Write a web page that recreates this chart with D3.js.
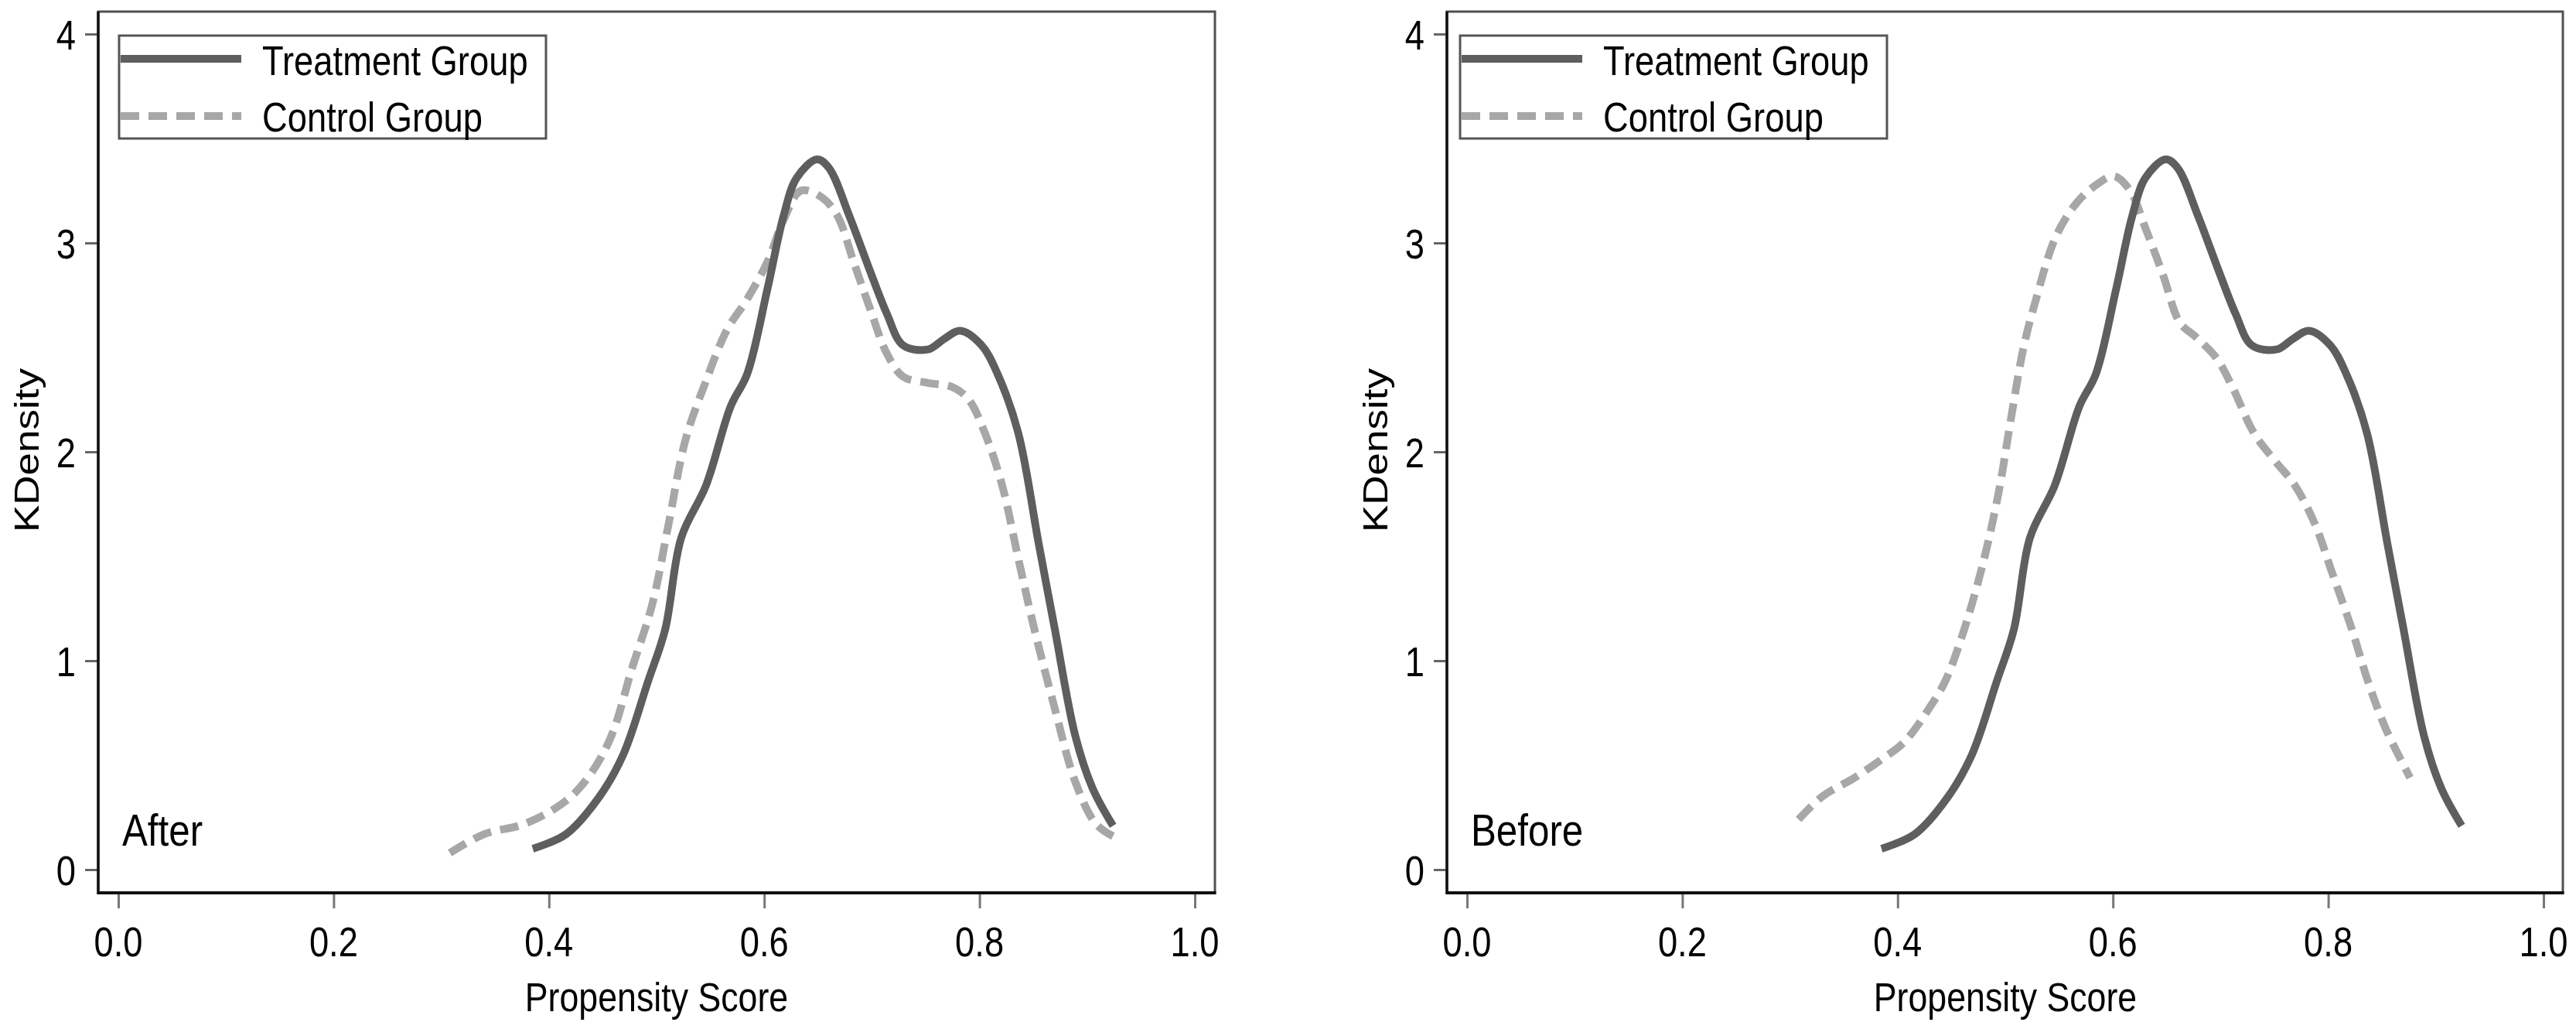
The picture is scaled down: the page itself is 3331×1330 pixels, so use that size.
<!DOCTYPE html>
<html>
<head>
<meta charset="utf-8">
<script src="https://cdn.jsdelivr.net/npm/d3@7"></script>
<style>
html,body{margin:0;padding:0;background:#fff;}
svg{display:block;}
</style>
</head>
<body>
<script>
// ---- Data ----
const panelLabels = ["After", "Before"];
const xTicks = [0.0, 0.2, 0.4, 0.6, 0.8, 1.0];
const yTicks = [0, 1, 2, 3, 4];
const legendLabels = ["Treatment Group", "Control Group"];
const xTitle = "Propensity Score";
const yTitle = "KDensity";

const treatX = [0.385,0.416,0.447,0.469,0.492,0.508,0.523,0.546,0.569,0.584,0.603,0.618,0.630,0.649,0.660,0.679,0.698,0.714,0.729,0.752,0.767,0.782,0.802,0.817,0.836,0.855,0.870,0.889,0.905,0.924];
const treatY = [0.10,0.17,0.35,0.55,0.90,1.15,1.59,1.84,2.22,2.37,2.78,3.13,3.31,3.40,3.36,3.13,2.87,2.66,2.51,2.49,2.54,2.58,2.51,2.37,2.09,1.56,1.15,0.64,0.39,0.21];

const ctrlAfterX = [0.308,0.340,0.378,0.416,0.439,0.458,0.477,0.496,0.511,0.527,0.546,0.565,0.584,0.603,0.618,0.634,0.653,0.668,0.683,0.698,0.714,0.729,0.752,0.775,0.790,0.805,0.821,0.836,0.851,0.870,0.889,0.908,0.924];
const ctrlAfterY = [0.08,0.17,0.22,0.33,0.46,0.64,0.96,1.27,1.65,2.06,2.34,2.58,2.73,2.91,3.11,3.25,3.22,3.13,2.91,2.69,2.47,2.36,2.33,2.31,2.25,2.09,1.84,1.49,1.15,0.77,0.42,0.22,0.16];

const ctrlBeforeX = [0.308,0.330,0.360,0.383,0.406,0.429,0.444,0.460,0.479,0.494,0.505,0.517,0.528,0.547,0.566,0.585,0.601,0.616,0.631,0.647,0.662,0.677,0.696,0.711,0.731,0.750,0.769,0.788,0.803,0.822,0.837,0.853,0.876];
const ctrlBeforeY = [0.24,0.35,0.44,0.52,0.61,0.77,0.90,1.12,1.46,1.81,2.15,2.50,2.72,3.03,3.19,3.28,3.32,3.25,3.06,2.84,2.62,2.55,2.45,2.31,2.09,1.96,1.84,1.65,1.43,1.15,0.90,0.68,0.44];

const controlSeries = [
  d3.zip(ctrlAfterX, ctrlAfterY),
  d3.zip(ctrlBeforeX, ctrlBeforeY)
];
const treatSeries = d3.zip(treatX, treatY);

// ---- Layout ----
const W = 3331, H = 1330;
const FONT = "'Liberation Sans', Arial, Helvetica, sans-serif";
const SX = 0.84; // horizontal text compression seen in the reference
const panels = [
  {frameL:127, frameR:1571, x0:153, x1:1545, legL:154, legR:706, yTitleX:50, xTitleX:849},
  {frameL:1871, frameR:3314, x0:1897, x1:3289, legL:1888, legR:2440, yTitleX:1794, xTitleX:2593}
];
const frameT = 15, frameB = 1154;
const yScale = d3.scaleLinear().domain([0,4]).range([1124, 44]);

const svg = d3.select("body").append("svg").attr("width", W).attr("height", H);
svg.append("rect").attr("width", W).attr("height", H).attr("fill", "#fff");

const treatColor = "#5e5e5e", ctrlColor = "#a7a7a7";

function ctext(g, x, y, str, size, anchor, sx, extra) {
  return g.append("text")
    .attr("transform", `translate(${x},${y}) scale(${sx},1)` + (extra || ""))
    .attr("text-anchor", anchor)
    .attr("font-family", FONT)
    .attr("font-size", size)
    .attr("fill", "#000")
    .text(str);
}

panels.forEach((p, i) => {
  const g = svg.append("g");
  const xScale = d3.scaleLinear().domain([0,1]).range([p.x0, p.x1]);

  // frame (top/right lighter)
  g.append("rect")
    .attr("x", p.frameL).attr("y", frameT)
    .attr("width", p.frameR - p.frameL).attr("height", frameB - frameT)
    .attr("fill", "none").attr("stroke", "#505050").attr("stroke-width", 3);

  // Axes via d3 axis generators
  const xAxis = d3.axisBottom(xScale).tickValues(xTicks).tickSize(18).tickPadding(0).tickFormat(() => "");
  const xa = g.append("g").attr("transform", `translate(0,${frameB + 2})`).call(xAxis);
  xa.select(".domain").remove();
  xa.selectAll(".tick line").attr("stroke", "#777").attr("stroke-width", 3);

  const yAxis = d3.axisLeft(yScale).tickValues(yTicks).tickSize(16).tickFormat(() => "");
  const ya = g.append("g").attr("transform", `translate(${p.frameL - 1},0)`).call(yAxis);
  ya.select(".domain").remove();
  ya.selectAll(".tick line").attr("stroke", "#666").attr("stroke-width", 3);

  // axis lines (left & bottom black)
  g.append("line").attr("x1", p.frameL).attr("x2", p.frameL).attr("y1", frameT).attr("y2", frameB + 2)
    .attr("stroke", "#111").attr("stroke-width", 3.5);
  g.append("line").attr("x1", p.frameL).attr("x2", p.frameR + 1.5).attr("y1", frameB).attr("y2", frameB)
    .attr("stroke", "#111").attr("stroke-width", 4);

  // tick labels
  xTicks.forEach(t => ctext(g, xScale(t), 1236, d3.format(".1f")(t), 54, "middle", SX));
  yTicks.forEach(t => ctext(g, 98, 0, String(t), 54, "end", SX)
     .attr("transform", `translate(${p.frameL - 29},${yScale(t) + 20}) scale(${SX},1)`));

  // titles
  ctext(g, p.xTitleX, 1307, xTitle, 52, "middle", 0.86);
  ctext(g, p.yTitleX, 582, yTitle, 53, "middle", SX, " rotate(-90)");

  // curves
  const line = d3.line().x(d => xScale(d[0])).y(d => yScale(d[1])).curve(d3.curveCatmullRom.alpha(0.5));
  g.append("path").datum(controlSeries[i]).attr("d", line)
    .attr("fill", "none").attr("stroke", ctrlColor).attr("stroke-width", 10)
    .attr("stroke-dasharray", "24,12");
  g.append("path").datum(treatSeries).attr("d", line)
    .attr("fill", "none").attr("stroke", treatColor).attr("stroke-width", 10)
    .attr("stroke-linejoin", "round");

  // legend
  g.append("rect").attr("x", p.legL).attr("y", 46).attr("width", p.legR - p.legL).attr("height", 133)
    .attr("fill", "#fff").attr("stroke", "#555").attr("stroke-width", 3);
  g.append("line").attr("x1", p.legL + 2).attr("x2", p.legL + 158).attr("y1", 76).attr("y2", 76)
    .attr("stroke", treatColor).attr("stroke-width", 10);
  g.append("line").attr("x1", p.legL + 2).attr("x2", p.legL + 158).attr("y1", 150).attr("y2", 150)
    .attr("stroke", ctrlColor).attr("stroke-width", 10).attr("stroke-dasharray", "24,12");
  ctext(g, p.legL + 185, 97, legendLabels[0], 54, "start", SX);
  ctext(g, p.legL + 185, 170, legendLabels[1], 54, "start", SX);

  // panel label
  ctext(g, p.frameL + 31, 1093, panelLabels[i], 58, "start", 0.85);
});
</script>
</body>
</html>
